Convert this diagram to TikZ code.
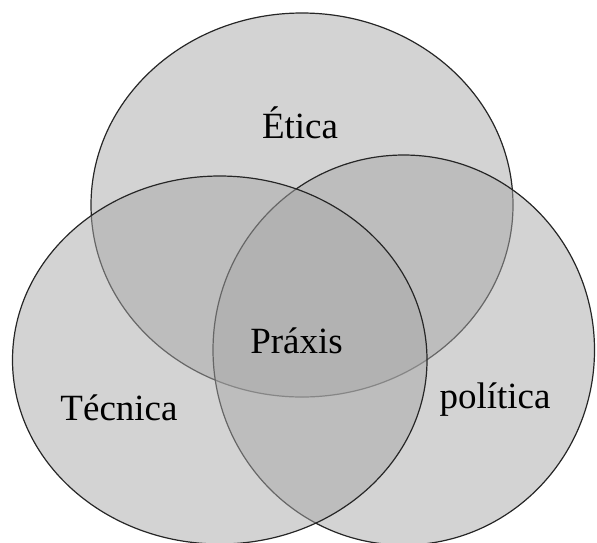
\documentclass[tikz,border=0pt]{standalone}
\usepackage{fontspec}
\setmainfont{Liberation Serif}
\definecolor{venngray}{RGB}{167,167,167}

\tikzset{
    venn/.style={draw=black!85, line width=0.6pt, fill=venngray, fill opacity=0.5},
    lbl/.style={anchor=base, inner sep=0pt, font=\fontsize{18.5}{22}\selectfont}
}

\begin{document}
\begin{tikzpicture}[x=0.5pt, y=-0.5pt]
    \useasboundingbox (0,0) rectangle (597,542);

    \coordinate (etica) at (302,205);
    \coordinate (politica) at (403.75,350);
    \coordinate (tecnica) at (219.75,360);

    \draw[venn] (etica) ellipse [x radius=211, y radius=192];
    \draw[venn] (politica) ellipse [x radius=190.75, y radius=195];
    \draw[venn] (tecnica) ellipse [x radius=207.25, y radius=184];

    \node[lbl] (eticaLbl) at (300,138) {Ética};
    \node[lbl] (praxisLbl) at (296.5,353) {Práxis};
    \node[lbl] (tecnicaLbl) at (119,420) {Técnica};
    \node[lbl] (politicaLbl) at (495,408) {política};
\end{tikzpicture}
\end{document}
